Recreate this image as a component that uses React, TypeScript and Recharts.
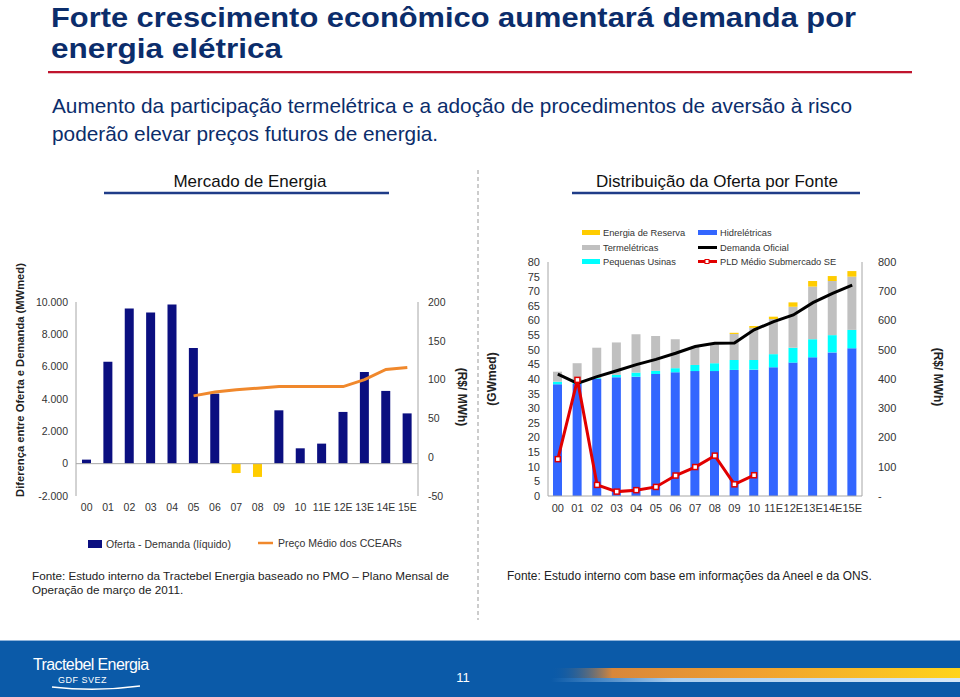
import React from "react";
import {
  Bar,
  Cell,
  ComposedChart,
  Line,
  ReferenceLine,
  XAxis,
  YAxis,
} from "recharts";

const FONT = "'Liberation Sans', Arial, sans-serif";

// anos (comuns aos dois gráficos)
const years = ["00", "01", "02", "03", "04", "05", "06", "07", "08", "09", "10", "11E", "12E", "13E", "14E", "15E"];

// Mercado de Energia
const netSupply = [250, 6300, 9600, 9350, 9850, 7150, 4330, -580, -820, 3300, 950, 1240, 3200, 5670, 4500, 3110];
const ccearPrice = [null, null, null, null, null, 79, 84, 87, 89, 91, 91, 91, 91, 100, 113, 115.5];
const leftTicks = [-2000, 0, 2000, 4000, 6000, 8000, 10000];
const priceTicks = [-50, 0, 50, 100, 150, 200];

// Distribuição da Oferta por Fonte
const hydro = [38.2, 38.3, 40.0, 40.6, 40.8, 41.7, 42.3, 42.7, 42.7, 43.1, 43.2, 44.0, 45.6, 47.4, 49.1, 50.5];
const smallPlants = [0.9, 0.8, 0.3, 0.8, 1.4, 1.1, 1.4, 2.1, 2.7, 3.4, 3.3, 4.5, 5.1, 6.2, 5.9, 6.3];
const thermal = [3.4, 6.3, 10.4, 11.1, 13.1, 11.9, 9.9, 6.2, 6.5, 8.9, 11.0, 12.0, 14.0, 18.0, 18.5, 18.2];
const reserve = [0, 0, 0, 0, 0, 0, 0, 0, 0, 0.4, 0.6, 0.8, 1.5, 1.9, 1.7, 1.9];
const demand = [41.7, 38.5, 40.8, 42.8, 44.9, 46.7, 48.8, 51.1, 52.2, 52.3, 56.8, 59.6, 61.9, 66.1, 69.3, 72.1];
const pld = [126, 397, 38, 15, 20, 31, 70, 99, 138, 40, 71, null, null, null, null, null];
const gwTicks = [0, 5, 10, 15, 20, 25, 30, 35, 40, 45, 50, 55, 60, 65, 70, 75, 80];
const pldTicks = [0, 100, 200, 300, 400, 500, 600, 700, 800];

const NAVY = "#0B0F80";
const AXIS = "#A6A6A6";
const TEXT = "#333";

const marketData = years.map((y, i) => ({ year: y, net: netSupply[i], price: ccearPrice[i] }));
const supplyData = years.map((y, i) => ({
  year: y,
  hydro: hydro[i],
  small: smallPlants[i],
  thermal: thermal[i],
  reserve: reserve[i],
  demand: demand[i],
  pld: pld[i],
}));

const fmtThousands = (v: number) => {
  const s = Math.abs(v).toString().replace(/\B(?=(\d{3})+(?!\d))/g, ".");
  return v < 0 ? "-" + s : s;
};

const SquareDot = (props: any) => {
  const { cx, cy, value, index } = props;
  if (value == null || cx == null || cy == null) return <g key={"d" + index} />;
  return (
    <rect key={"d" + index} x={cx - 2.5} y={cy - 2.5} width={5} height={5}
      fill="#fff" stroke="#E10000" strokeWidth={1.5} />
  );
};

function Decor() {
  return (
    <svg width={960} height={697} style={{ position: "absolute", left: 0, top: 0 }} fontFamily={FONT}>
      <defs>
        <linearGradient id="stripe" x1="0" x2="1" y1="0" y2="0">
          <stop offset="0" stopColor="#0B5AA8" stopOpacity="0" />
          <stop offset="0.15" stopColor="#D9873A" />
          <stop offset="0.5" stopColor="#F0A030" />
          <stop offset="1" stopColor="#FFD41C" />
        </linearGradient>
        <linearGradient id="stripe2" x1="0" x2="1" y1="0" y2="0">
          <stop offset="0" stopColor="#9CC4EA" stopOpacity="0" />
          <stop offset="0.3" stopColor="#A9CDEE" />
          <stop offset="1" stopColor="#D6E8F8" />
        </linearGradient>
      </defs>

      <text x={51} y={27} fontSize={28} fontWeight="bold" fill="#0B2D6B"
        textLength={805} lengthAdjust="spacingAndGlyphs">Forte crescimento econômico aumentará demanda por</text>
      <text x={51} y={58} fontSize={28} fontWeight="bold" fill="#0B2D6B"
        textLength={231} lengthAdjust="spacingAndGlyphs">energia elétrica</text>
      <line x1={48} x2={912} y1={72} y2={72} stroke="#C0142D" strokeWidth={2} />
      <line x1={48} x2={912} y1={73.5} y2={73.5} stroke="#E9C0C6" strokeWidth={1} />

      <text x={52} y={113} fontSize={20.8} fill="#0B2D6B">Aumento da participação termelétrica e a adoção de procedimentos de aversão à risco</text>
      <text x={52} y={141} fontSize={20.8} fill="#0B2D6B">poderão elevar preços futuros de energia.</text>

      <text x={250} y={187} fontSize={17} textAnchor="middle" fill="#111">Mercado de Energia</text>
      <line x1={104} x2={389} y1={193} y2={193} stroke="#1F3C88" strokeWidth={2.5} />
      <text x={717} y={187} fontSize={17} textAnchor="middle" fill="#111">Distribuição da Oferta por Fonte</text>
      <line x1={572} x2={860} y1={193} y2={193} stroke="#1F3C88" strokeWidth={2.5} />

      <line x1={478} x2={478} y1={170} y2={620} stroke="#999" strokeWidth={1} strokeDasharray="4 3" />

      {/* axis titles */}
      <text transform="translate(24,380) rotate(-90)" fontSize={11.2} fontWeight="bold" fill="#222" textAnchor="middle">Diferença entre Oferta e Demanda (MWmed)</text>
      <text transform="translate(458,397) rotate(90)" fontSize={12} fontWeight="bold" fill="#222" textAnchor="middle">(R$/ MWh)</text>
      <text transform="translate(496,379) rotate(-90)" fontSize={12} fontWeight="bold" fill="#222" textAnchor="middle">(GWmed)</text>
      <text transform="translate(934,377) rotate(90)" fontSize={12} fontWeight="bold" fill="#222" textAnchor="middle">(R$/ MWh)</text>

      {/* left legend */}
      <rect x={88} y={540} width={14} height={8} fill={NAVY} />
      <text x={106} y={548} fontSize={10.5} fill={TEXT}>Oferta - Demanda (líquido)</text>
      <line x1={258} x2={273} y1={543} y2={543} stroke="#F0882C" strokeWidth={2.5} />
      <text x={278} y={547} fontSize={10.5} fill={TEXT}>Preço Médio dos CCEARs</text>

      {/* right legend */}
      <rect x={582} y={230} width={18} height={5} fill="#FFCC00" />
      <text x={603} y={236} fontSize={9.3} fill={TEXT}>Energia de Reserva</text>
      <rect x={582} y={245} width={18} height={5} fill="#C0C0C0" />
      <text x={603} y={250.5} fontSize={9.3} fill={TEXT}>Termelétricas</text>
      <rect x={582} y={259} width={18} height={5} fill="#00FFFF" />
      <text x={603} y={265} fontSize={9.3} fill={TEXT}>Pequenas Usinas</text>
      <rect x={698} y={230} width={19} height={5} fill="#3366FF" />
      <text x={720} y={236} fontSize={9.3} fill={TEXT}>Hidrelétricas</text>
      <line x1={698} x2={717} y1={247.5} y2={247.5} stroke="#000" strokeWidth={3} />
      <text x={720} y={250.5} fontSize={9.3} fill={TEXT}>Demanda Oficial</text>
      <line x1={698} x2={717} y1={261.5} y2={261.5} stroke="#E10000" strokeWidth={3} />
      <rect x={705} y={259.5} width={4} height={4} fill="#fff" stroke="#E10000" strokeWidth={1} />
      <text x={720} y={265} fontSize={9.3} fill={TEXT}>PLD Médio Submercado SE</text>

      {/* sources */}
      <text x={32} y={580} fontSize={11.7} fill="#222">Fonte: Estudo interno da Tractebel Energia baseado no PMO – Plano Mensal de</text>
      <text x={32} y={594} fontSize={11.7} fill="#222">Operação de março de 2011.</text>
      <text x={507} y={580} fontSize={11.9} fill="#222">Fonte: Estudo interno com base em informações da Aneel e da ONS.</text>

      {/* footer */}
      <rect x={0} y={640} width={960} height={57} fill="#0B5AA8" />
      <line x1={0} x2={960} y1={640.5} y2={640.5} stroke="#8FB3DA" strokeWidth={1} />
      <rect x={551} y={668} width={409} height={10} fill="url(#stripe)" />
      <rect x={551} y={678} width={409} height={4} fill="url(#stripe2)" />
      <text x={33} y={670} fontSize={16} fill="#fff" letterSpacing={-0.6}>Tractebel Energia</text>
      <text x={58} y={683} fontSize={9} fill="#fff" letterSpacing={0.5}>GDF SVEZ</text>
      <path d="M52 687 Q96 692 140 686" stroke="#fff" strokeWidth={1.5} fill="none" />
      <text x={463} y={682} fontSize={13} fill="#fff" textAnchor="middle">11</text>
    </svg>
  );
}

function MarketChart() {
  return (
    <div style={{ position: "absolute", left: 0, top: 280, width: 480, height: 250 }}>
      <ComposedChart width={480} height={250} data={marketData}
        margin={{ top: 22, right: 0, left: 0, bottom: 4 }} barCategoryGap={0}>
        <XAxis dataKey="year" axisLine={false} tickLine={false} interval={0} height={30}
          tick={{ fontSize: 10.5, fill: TEXT, fontFamily: FONT }} />
        <YAxis yAxisId="l" width={76} domain={[-2000, 10000]} ticks={leftTicks} interval={0}
          tickFormatter={fmtThousands} tickLine={false} axisLine={{ stroke: AXIS }}
          tick={{ fontSize: 10.5, fill: TEXT, fontFamily: FONT }} />
        <YAxis yAxisId="r" orientation="right" width={62} domain={[-50, 200]} ticks={priceTicks} interval={0}
          tickLine={false} tickMargin={4} axisLine={{ stroke: AXIS }}
          tick={{ fontSize: 10.5, fill: TEXT, fontFamily: FONT }} />
        <ReferenceLine y={0} yAxisId="l" stroke={AXIS} />
        <Bar dataKey="net" yAxisId="l" barSize={9} isAnimationActive={false}>
          {marketData.map((d, i) => (
            <Cell key={`cell-${i}`} fill={d.net < 0 ? "#FFCC00" : NAVY} />
          ))}
        </Bar>
        <Line dataKey="price" yAxisId="r" stroke="#F0882C" strokeWidth={3} dot={false}
          type="linear" isAnimationActive={false} />
      </ComposedChart>
    </div>
  );
}

function SupplyChart() {
  return (
    <div style={{ position: "absolute", left: 480, top: 220, width: 480, height: 310 }}>
      <ComposedChart width={480} height={310} data={supplyData}
        margin={{ top: 42, right: 0, left: 0, bottom: 4 }}>
        <XAxis dataKey="year" axisLine={{ stroke: AXIS }} tickLine={false} interval={0} height={30}
          tick={{ fontSize: 11, fill: TEXT, fontFamily: FONT }} />
        <YAxis yAxisId="l" width={68} domain={[0, 80]} ticks={gwTicks} interval={0} tickLine={false}
          axisLine={{ stroke: AXIS }} tick={{ fontSize: 11, fill: TEXT, fontFamily: FONT }} />
        <YAxis yAxisId="r" orientation="right" width={98} domain={[0, 800]} ticks={pldTicks} interval={0}
          tickFormatter={(v: number) => (v === 0 ? "-" : String(v))} tickLine={false} tickMargin={10}
          axisLine={{ stroke: AXIS }} tick={{ fontSize: 11, fill: TEXT, fontFamily: FONT }} />
        <Bar dataKey="hydro" stackId="a" yAxisId="l" barSize={9} fill="#3366FF" isAnimationActive={false} />
        <Bar dataKey="small" stackId="a" yAxisId="l" barSize={9} fill="#00FFFF" isAnimationActive={false} />
        <Bar dataKey="thermal" stackId="a" yAxisId="l" barSize={9} fill="#C0C0C0" isAnimationActive={false} />
        <Bar dataKey="reserve" stackId="a" yAxisId="l" barSize={9} fill="#FFCC00" isAnimationActive={false} />
        <Line dataKey="demand" yAxisId="l" stroke="#000" strokeWidth={3} dot={false}
          type="linear" isAnimationActive={false} />
        <Line dataKey="pld" yAxisId="r" stroke="#E10000" strokeWidth={3} dot={SquareDot}
          type="linear" isAnimationActive={false} />
      </ComposedChart>
    </div>
  );
}

export default function App() {
  return (
    <div style={{ position: "absolute", left: 0, top: 0, width: 960, height: 697, background: "#fff", fontFamily: FONT }}>
      <Decor />
      <MarketChart />
      <SupplyChart />
    </div>
  );
}
